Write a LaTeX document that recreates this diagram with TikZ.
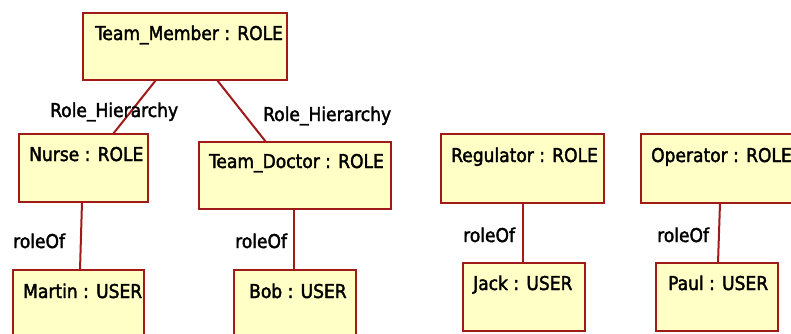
\documentclass[tikz,border=0pt]{standalone}
\usepackage{fontspec}
\setmainfont[FakeBold=2]{DejaVu Sans Condensed}
\usetikzlibrary{calc}
\definecolor{boxfill}{HTML}{FFFFC6}
\definecolor{boxline}{HTML}{A01A1A}
\tikzset{
  umlbox/.style={draw=boxline, fill=boxfill, line width=2pt, rectangle,
    inner sep=0pt, outer sep=0pt, anchor=north west},
  boxtext/.style={anchor=base west, inner sep=0pt, font=\fontsize{19}{22}\selectfont},
  linktext/.style={anchor=base west, inner sep=0pt, font=\fontsize{19}{22}\selectfont},
  link/.style={draw=boxline, line width=2pt},
}
\begin{document}
\begin{tikzpicture}[x=1pt, y=-1pt]
\useasboundingbox (0,0) rectangle (791,333);

% object boxes (top-left corner, width, height)
\node[umlbox, minimum width=204pt, minimum height=67pt] (tm)   at (83,13)  {};
\node[umlbox, minimum width=129pt, minimum height=68pt] (nurse) at (19,134) {};
\node[umlbox, minimum width=192pt, minimum height=67pt] (td)   at (199,142) {};
\node[umlbox, minimum width=131pt, minimum height=68pt] (martin) at (13,270) {};
\node[umlbox, minimum width=122pt, minimum height=68pt] (bob)  at (234,270) {};
\node[umlbox, minimum width=163pt, minimum height=69pt] (reg)  at (441,134) {};
\node[umlbox, minimum width=163pt, minimum height=69pt] (op)   at (641,134) {};
\node[umlbox, minimum width=122pt, minimum height=68pt] (jack) at (463,263) {};
\node[umlbox, minimum width=122pt, minimum height=68pt] (paul) at (656,263) {};

% object names
\node[boxtext] (tm-t)     at ([xshift=12pt,yshift=-27pt]tm.north west)     {Team\_Member : ROLE};
\node[boxtext] (nurse-t)  at ([xshift=10pt,yshift=-27pt]nurse.north west)  {Nurse : ROLE};
\node[boxtext] (td-t)     at ([xshift=10pt,yshift=-26pt]td.north west)     {Team\_Doctor : ROLE};
\node[boxtext] (martin-t) at ([xshift=10pt,yshift=-28pt]martin.north west) {Martin : USER};
\node[boxtext] (bob-t)    at ([xshift=15pt,yshift=-28pt]bob.north west)    {Bob : USER};
\node[boxtext] (reg-t)    at ([xshift=10pt,yshift=-28pt]reg.north west)    {Regulator : ROLE};
\node[boxtext] (op-t)     at ([xshift=10pt,yshift=-28pt]op.north west)     {Operator : ROLE};
\node[boxtext] (jack-t)   at ([xshift=10pt,yshift=-27pt]jack.north west)   {Jack : USER};
\node[boxtext] (paul-t)   at ([xshift=12pt,yshift=-27pt]paul.north west)   {Paul : USER};

% links
\draw[link] ([xshift=73pt]tm.south west) -- ([xshift=94pt]nurse.north west);
\draw[link] ([xshift=134pt]tm.south west) -- ([xshift=67pt]td.north west);
\draw[link] ([xshift=63pt]nurse.south west) -- ([xshift=67pt]martin.north west);
\draw[link] ([xshift=95pt]td.south west) -- ([xshift=60pt]bob.north west);
\draw[link] ([xshift=82pt]reg.south west) -- ([xshift=60pt]jack.north west);
\draw[link] ([xshift=79pt]op.south west) -- ([xshift=62pt]paul.north west);

% link labels
\node[linktext] (rh1) at (50,117)  {Role\_Hierarchy};
\node[linktext] (rh2) at (263,121) {Role\_Hierarchy};
\node[linktext] (ro1) at (13,248)  {roleOf};
\node[linktext] (ro2) at (235,248) {roleOf};
\node[linktext] (ro3) at (463,242) {roleOf};
\node[linktext] (ro4) at (657,242) {roleOf};
\end{tikzpicture}
\end{document}
